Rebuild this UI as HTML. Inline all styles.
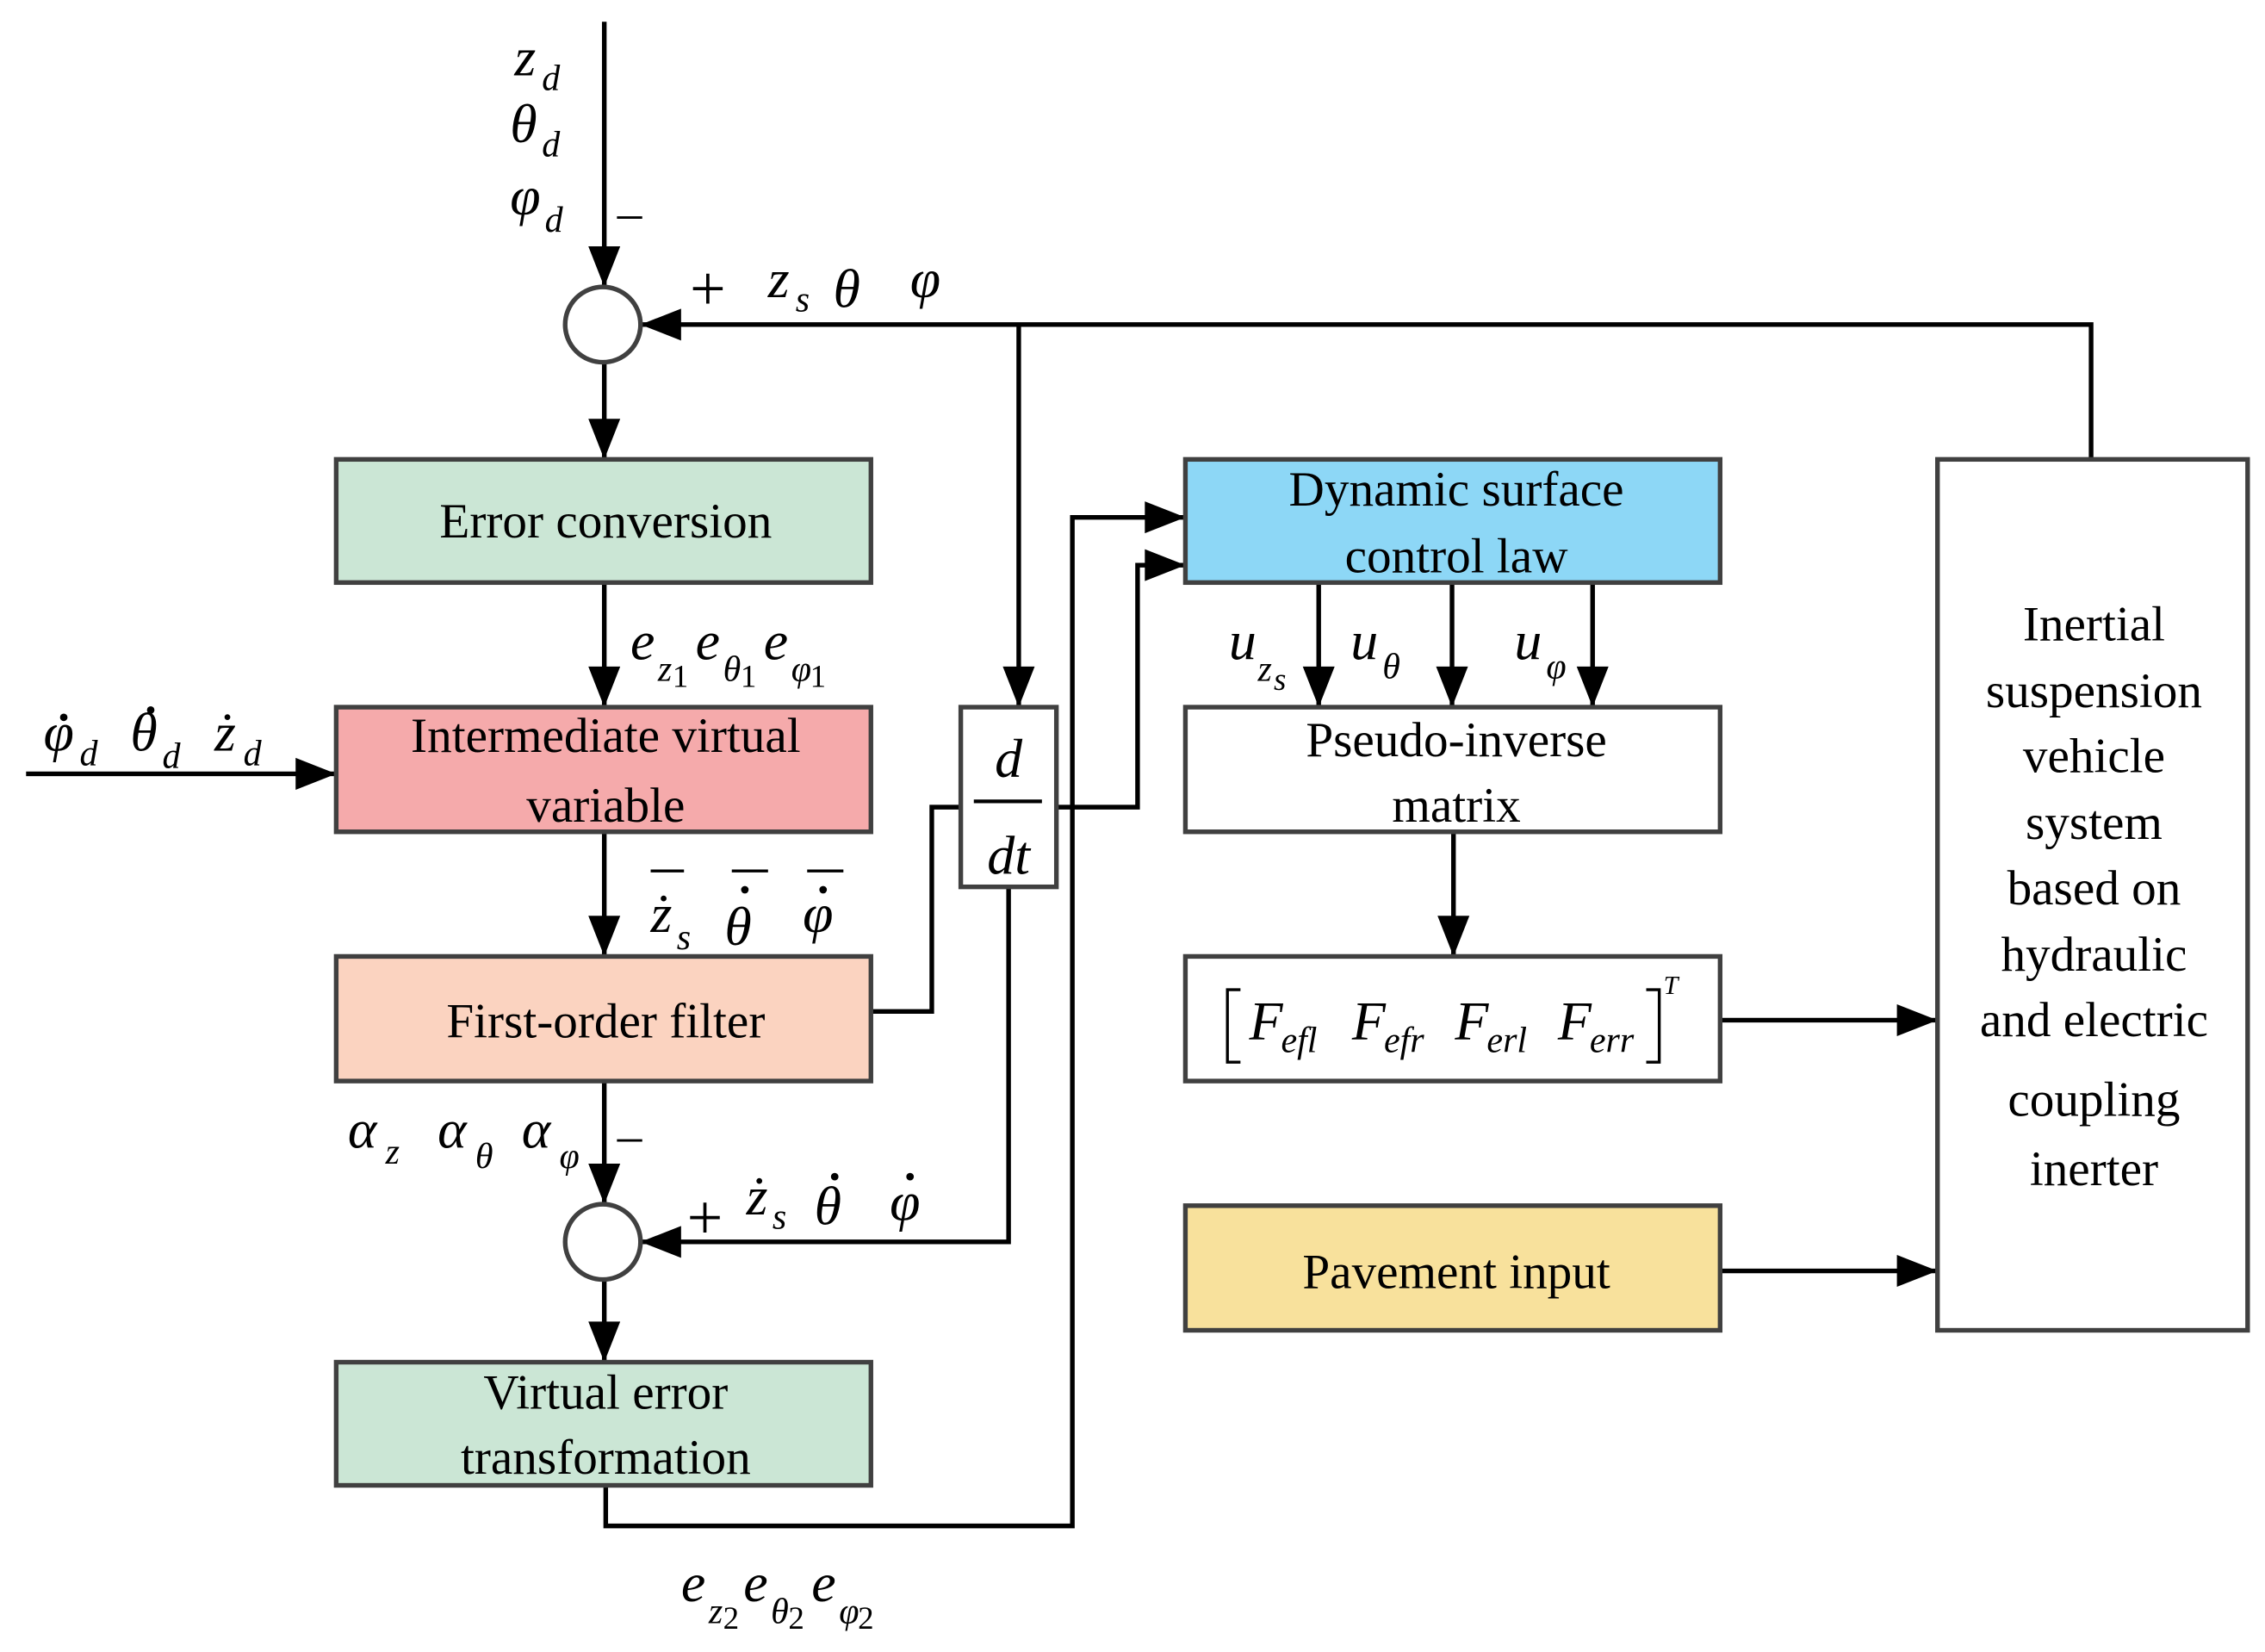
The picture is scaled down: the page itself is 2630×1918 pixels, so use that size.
<!DOCTYPE html>
<html><head><meta charset="utf-8"><style>
html,body{margin:0;padding:0;background:#fff}
svg{display:block}
text{font-family:"Liberation Serif",serif;fill:#000}
.b{font-size:34px}
.m{font-style:italic;font-size:38px}
.s{font-style:italic;font-size:25px}
.s2{font-size:22px}
</style></head><body>
<svg width="2630" height="1918" viewBox="0 0 1563 1140" preserveAspectRatio="none" xmlns="http://www.w3.org/2000/svg">
<rect width="1563" height="1140" fill="#fff"/>
<g stroke="#000" stroke-width="3.2" fill="none">
<path d="M417,15 V198"/>
<path d="M1443,317 V224 H442"/>
<path d="M703,224 V488"/>
<path d="M417,250 V317"/>
<path d="M417,402 V488"/>
<path d="M18,534 H232"/>
<path d="M417,574 V660"/>
<path d="M601,698 H643 V557 H663"/>
<path d="M729,557 H785 V390 H818"/>
<path d="M696,612 V857 H442"/>
<path d="M417,746 V831"/>
<path d="M417,883 V940"/>
<path d="M418,1025 V1053 H740 V357 H818"/>
<path d="M910,402 V488 M1002,402 V488 M1099,402 V488"/>
<path d="M1003,574 V660"/>
<path d="M1187,704 H1337 M1187,877 H1337"/>
</g>
<g fill="#000">
<polygon points="406,170 428,170 417,198"/>
<polygon points="470,213 470,235 442,224"/>
<polygon points="692,460 714,460 703,488"/>
<polygon points="406,289 428,289 417,317"/>
<polygon points="406,460 428,460 417,488"/>
<polygon points="204,523 204,545 232,534"/>
<polygon points="406,632 428,632 417,660"/>
<polygon points="790,379 790,401 818,390"/>
<polygon points="470,846 470,868 442,857"/>
<polygon points="406,803 428,803 417,831"/>
<polygon points="406,912 428,912 417,940"/>
<polygon points="790,346 790,368 818,357"/>
<polygon points="899,460 921,460 910,488"/>
<polygon points="991,460 1013,460 1002,488"/>
<polygon points="1088,460 1110,460 1099,488"/>
<polygon points="992,632 1014,632 1003,660"/>
<polygon points="1309,693 1309,715 1337,704"/>
<polygon points="1309,866 1309,888 1337,877"/>
</g>
<g stroke="#404040" stroke-width="3.2">
<circle cx="416" cy="224" r="26" fill="#fff"/>
<circle cx="416" cy="857" r="26" fill="#fff"/>
<rect x="232" y="317" width="369" height="85" fill="#cbe6d5"/>
<rect x="232" y="488" width="369" height="86" fill="#f5aaab"/>
<rect x="232" y="660" width="369" height="86" fill="#fbd3c0"/>
<rect x="232" y="940" width="369" height="85" fill="#cbe6d5"/>
<rect x="663" y="488" width="66" height="124" fill="#fff"/>
<rect x="818" y="317" width="369" height="85" fill="#8dd7f6"/>
<rect x="818" y="488" width="369" height="86" fill="#fff"/>
<rect x="818" y="660" width="369" height="86" fill="#fff"/>
<rect x="818" y="832" width="369" height="86" fill="#f8e19c"/>
<rect x="1337" y="317" width="214" height="601" fill="#fff"/>
</g>
<g class="b" text-anchor="middle">
<text x="418" y="371">Error conversion</text>
<text x="418" y="519">Intermediate virtual</text>
<text x="418" y="567">variable</text>
<text x="418" y="716">First-order filter</text>
<text x="418" y="972">Virtual error</text>
<text x="418" y="1017">transformation</text>
<text x="1005" y="349">Dynamic surface</text>
<text x="1005" y="395">control law</text>
<text x="1005" y="522">Pseudo-inverse</text>
<text x="1005" y="567">matrix</text>
<text x="1005" y="889">Pavement input</text>
<text x="1445" y="442">Inertial</text>
<text x="1445" y="488">suspension</text>
<text x="1445" y="533">vehicle</text>
<text x="1445" y="579">system</text>
<text x="1445" y="624">based on</text>
<text x="1445" y="670">hydraulic</text>
<text x="1445" y="715">and electric</text>
<text x="1445" y="770">coupling</text>
<text x="1445" y="818">inerter</text>
</g>
<text class="m" x="696" y="536" text-anchor="middle">d</text>
<line x1="672" y1="553" x2="719" y2="553" stroke="#000" stroke-width="2.5"/>
<text class="m" x="696" y="603" text-anchor="middle">dt</text>
<text class="m" x="355" y="52">z</text><text class="s" x="374" y="62">d</text>
<text class="m" x="352" y="98">θ</text><text class="s" x="374" y="108">d</text>
<text class="m" x="352" y="148">φ</text><text class="s" x="376" y="160">d</text>
<text x="426" y="158" font-size="34">–</text>
<text x="476" y="214" font-size="44">+</text>
<text class="m" x="530" y="205">z</text><text class="s" x="549" y="215">s</text>
<text class="m" x="575" y="212">θ</text>
<text class="m" x="628" y="205">φ</text>
<text class="m" x="435" y="455">e</text><text class="s" x="454" y="470">z</text><text class="s2" x="464" y="474">1</text>
<text class="m" x="480" y="455">e</text><text class="s" x="499" y="470">θ</text><text class="s2" x="511" y="474">1</text>
<text class="m" x="527" y="455">e</text><text class="s" x="546" y="470">φ</text><text class="s2" x="559" y="474">1</text>
<g fill="#000">
<circle cx="44" cy="495" r="2.6"/>
<circle cx="104" cy="490" r="2.6"/>
<circle cx="514" cy="614" r="2.6"/>
<circle cx="568" cy="614" r="2.6"/>
<circle cx="576" cy="812" r="2.6"/>
<circle cx="628" cy="812" r="2.6"/>
</g>
<text class="m" x="30" y="518">φ</text><text class="s" x="55" y="528">d</text>
<text class="m" x="90" y="518">θ</text><text class="s" x="112" y="530">d</text>
<text class="m" x="148" y="518">ż</text><text class="s" x="168" y="528">d</text>
<line x1="449" y1="601" x2="472" y2="601" stroke="#000" stroke-width="2"/>
<text class="m" x="449" y="643">ż</text><text class="s" x="467" y="655">s</text>
<line x1="505" y1="601" x2="530" y2="601" stroke="#000" stroke-width="2"/>
<text class="m" x="500" y="652">θ</text>
<line x1="557" y1="601" x2="582" y2="601" stroke="#000" stroke-width="2"/>
<text class="m" x="554" y="643">φ</text>
<text class="m" x="240" y="792">α</text><text class="s" x="266" y="803">z</text>
<text class="m" x="302" y="792">α</text><text class="s" x="328" y="806">θ</text>
<text class="m" x="360" y="792">α</text><text class="s" x="386" y="806">φ</text>
<text x="426" y="795" font-size="34">–</text>
<text x="474" y="855" font-size="44">+</text>
<text class="m" x="515" y="838">ż</text><text class="s" x="533" y="848">s</text>
<text class="m" x="562" y="845">θ</text>
<text class="m" x="614" y="842">φ</text>
<text class="m" x="470" y="1105">e</text><text class="s" x="489" y="1120">z</text><text class="s2" x="499" y="1124">2</text>
<text class="m" x="513" y="1105">e</text><text class="s" x="532" y="1120">θ</text><text class="s2" x="544" y="1124">2</text>
<text class="m" x="560" y="1105">e</text><text class="s" x="579" y="1120">φ</text><text class="s2" x="592" y="1124">2</text>
<text class="m" x="848" y="455">u</text><text class="s" x="868" y="470">z</text><text class="s2" x="879" y="476" font-style="italic">s</text>
<text class="m" x="932" y="455">u</text><text class="s" x="954" y="468">θ</text>
<text class="m" x="1045" y="455">u</text><text class="s" x="1067" y="468">φ</text>
<path d="M856,683 H847 V733 H856 M1136,683 H1145 V733 H1136" stroke="#000" stroke-width="2" fill="none"/>
<text x="1148" y="686" font-size="18" font-style="italic">T</text>
<text class="m" x="862" y="717">F</text><text class="s" x="884" y="726">efl</text>
<text class="m" x="933" y="717">F</text><text class="s" x="955" y="726">efr</text>
<text class="m" x="1004" y="717">F</text><text class="s" x="1026" y="726">erl</text>
<text class="m" x="1075" y="717">F</text><text class="s" x="1097" y="726">err</text>
</svg>
</body></html>
